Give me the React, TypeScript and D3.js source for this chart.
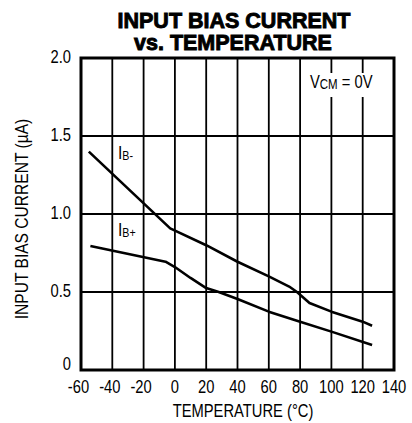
import React from "react";
import * as d3 from "d3";

const W = 412;
const H = 423;

const xTicks = [-60, -40, -20, 0, 20, 40, 60, 80, 100, 120, 140];
const yTicks = [0, 0.5, 1.0, 1.5, 2.0];
const yTickLabels = ["0", "0.5", "1.0", "1.5", "2.0"];

// IB- curve (temperature °C, current µA)
const ibMinusT = [-55, -3, 20, 40, 60, 73, 78, 86, 100, 120, 126];
const ibMinusI = [1.4, 0.908, 0.8, 0.694, 0.6, 0.535, 0.5, 0.43, 0.374, 0.31, 0.284];

// IB+ curve
const ibPlusT = [-54, -6, 0, 10, 20, 28, 40, 60, 80, 100, 126];
const ibPlusI = [0.795, 0.694, 0.66, 0.59, 0.525, 0.5, 0.455, 0.374, 0.31, 0.246, 0.16];

const FONT = "'Liberation Sans', Arial, sans-serif";
const TITLE_FONT = "'Liberation Sans', Arial, sans-serif";
const SX = 0.82;

function NText(props: {
  x: number;
  y: number;
  size: number;
  anchor?: string;
  rotate?: number;
  children: React.ReactNode;
}) {
  const { x, y, size, anchor, rotate, children } = props;
  return (
    <text
      transform={`translate(${x},${y})${rotate ? ` rotate(${rotate})` : ""} scale(${SX},1)`}
      textAnchor={anchor || "start"}
      fontFamily={FONT}
      fontSize={size}
      fill="#000"
    >
      {children}
    </text>
  );
}

export default function App() {
  const x = d3.scaleLinear().domain([-60, 140]).range([81, 394]);
  const y = d3.scaleLinear().domain([0, 2]).range([370, 58]);

  const line = d3
    .line<[number, number]>()
    .x((d) => x(d[0]))
    .y((d) => y(d[1]))
    .curve(d3.curveLinear);

  const minusPts: [number, number][] = ibMinusT.map((t, i) => [t, ibMinusI[i]]);
  const plusPts: [number, number][] = ibPlusT.map((t, i) => [t, ibPlusI[i]]);

  return (
    <svg
      width={W}
      height={H}
      style={{ position: "absolute", left: 0, top: 0, background: "#fff" }}
    >
      <rect x={0} y={0} width={W} height={H} fill="#fff" />
      {/* Title */}
      <text
        x={234}
        y={28}
        textAnchor="middle"
        fontFamily={TITLE_FONT}
        fontWeight="bold"
        fontSize={21.5}
        stroke="#000"
        strokeWidth={0.9}
        fill="#000"
      >
        INPUT BIAS CURRENT
      </text>
      <text
        x={233}
        y={50}
        textAnchor="middle"
        fontFamily={TITLE_FONT}
        fontWeight="bold"
        fontSize={21.5}
        stroke="#000"
        strokeWidth={0.9}
        fill="#000"
      >
        vs. TEMPERATURE
      </text>

      {/* vertical grid */}
      {xTicks.slice(1, -1).map((t) => (
        <line key={"vx" + t} x1={x(t)} x2={x(t)} y1={y(2)} y2={y(0)} stroke="#000" strokeWidth={1.8} />
      ))}
      {/* horizontal grid */}
      {yTicks.slice(1, -1).map((v) => (
        <line key={"hy" + v} x1={x(-60)} x2={x(140)} y1={y(v)} y2={y(v)} stroke="#000" strokeWidth={2} />
      ))}

      {/* label background for VCM */}
      <rect x={305} y={73} width={84} height={24} fill="#fff" />

      {/* frame */}
      <rect
        x={x(-60)}
        y={y(2)}
        width={x(140) - x(-60)}
        height={y(0) - y(2)}
        fill="none"
        stroke="#000"
        strokeWidth={3}
      />

      {/* curves */}
      <path d={line(minusPts) || ""} fill="none" stroke="#000" strokeWidth={2.6} strokeLinejoin="round" />
      <path d={line(plusPts) || ""} fill="none" stroke="#000" strokeWidth={2.6} strokeLinejoin="round" />

      {/* y tick labels */}
      {yTicks.map((v, i) => (
        <NText key={"yl" + v} x={71} y={Math.min(y(v) + 5, y(0))} size={18} anchor="end">
          {yTickLabels[i]}
        </NText>
      ))}

      {/* x tick labels */}
      {xTicks.map((t) => (
        <NText key={"xl" + t} x={x(t) + (t < 0 ? -2.5 : 0)} y={393} size={18} anchor="middle">
          {String(t)}
        </NText>
      ))}

      {/* axis titles */}
      <NText x={243} y={417} size={18} anchor="middle">
        TEMPERATURE (°C)
      </NText>
      <NText x={27.5} y={219} size={19} anchor="middle" rotate={-90}>
        INPUT BIAS CURRENT (µA)
      </NText>

      {/* curve labels */}
      <NText x={118} y={159} size={19}>
        <tspan>I</tspan>
        <tspan fontSize={13} dy={1}>B-</tspan>
      </NText>
      <NText x={118} y={236} size={19}>
        <tspan>I</tspan>
        <tspan fontSize={13} dy={1}>B+</tspan>
      </NText>

      {/* VCM label */}
      <NText x={310} y={88} size={18}>
        <tspan>V</tspan>
        <tspan fontSize={14} dy={0.5}>CM</tspan>
        <tspan dy={-0.5}> = 0V</tspan>
      </NText>
    </svg>
  );
}
